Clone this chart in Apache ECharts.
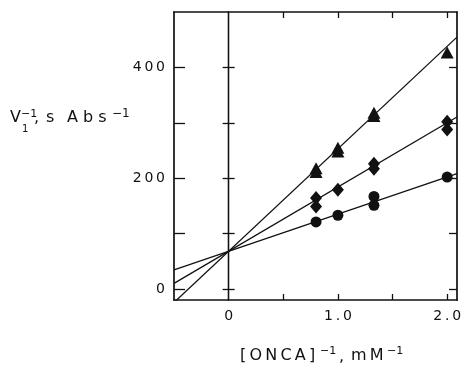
<!DOCTYPE html>
<html>
<head>
<meta charset="utf-8">
<script src="https://cdn.jsdelivr.net/npm/echarts@6/dist/echarts.min.js"></script>
<style>
  html, body { margin: 0; padding: 0; background: #fff; }
  #chart { width: 465px; height: 369px; }
</style>
</head>
<body>
<div id="chart"></div>
<script>
// ==================== data ====================
// [ONCA]^-1 (mM^-1) vs V1^-1 (s Abs^-1), three inhibitor levels
const triangleX = [0.8, 0.8, 1.0, 1.0, 1.33, 1.33, 2.0]
const triangleY = [218, 211, 255, 248, 318, 312, 427]
const diamondX = [0.8, 0.8, 1.0, 1.33, 1.33, 2.0, 2.0]
const diamondY = [164, 149, 179, 226, 217, 302, 288]
const circleX = [0.8, 1.0, 1.33, 1.33, 2.0]
const circleY = [121, 133, 167, 151, 202]

// fitted lines, common y intercept
const fitIntercept = 68
const fitSlopes = [185, 116, 67]

const xRange = [-0.5, 2.09]
const yRange = [-20, 500]
const xTickValues = [0.5, 1.0, 1.5, 2.0]
const xLabelValues = [0, 1.0, 2.0]
const yTickValues = [0, 100, 200, 300, 400]
const yLabelValues = [0, 200, 400]

const ink = '#111'
const font = 'DejaVu Sans'
const spaced = s => s.split('').join('\u2009')
const pairs = (xs, ys) => xs.map((x, i) => [x, ys[i]])

const chart = echarts.init(document.getElementById('chart'), null, { renderer: 'canvas' })

const frameLine = { onZero: false, lineStyle: { color: ink, width: 1.7 } }
const tickStyle = { color: ink, width: 1.3 }

function xAxisDef(position, showLabel) {
  return {
    type: 'value',
    position,
    min: xRange[0],
    max: xRange[1],
    axisLine: frameLine,
    axisTick: { show: true, inside: true, length: 6, customValues: xTickValues, lineStyle: tickStyle },
    axisLabel: {
      show: showLabel,
      customValues: xLabelValues,
      formatter: v => spaced(v === 0 ? '0' : v.toFixed(1)),
      margin: 9,
      fontSize: 14,
      fontFamily: font,
      color: ink
    },
    splitLine: { show: false }
  }
}

function yAxisDef(position, opts) {
  return {
    type: 'value',
    position,
    min: yRange[0],
    max: yRange[1],
    axisLine: opts.onZero
      ? { onZero: true, lineStyle: { color: ink, width: 1.3 } }
      : frameLine,
    axisTick: { show: true, inside: opts.inside, length: opts.tickLen, customValues: yTickValues, lineStyle: tickStyle },
    axisLabel: {
      show: !!opts.label,
      customValues: yLabelValues,
      formatter: v => spaced(String(v)),
      margin: 9,
      fontSize: 14,
      fontFamily: font,
      color: ink
    },
    splitLine: { show: false }
  }
}

const lineSeries = fitSlopes.map(m => ({
  type: 'line',
  xAxisIndex: 0,
  yAxisIndex: 0,
  data: xRange.map(x => [x, fitIntercept + m * x]),
  symbol: 'none',
  lineStyle: { color: ink, width: 1.3 },
  clip: true,
  silent: true,
  z: 2
}))

function scatter(data, symbol, size) {
  return {
    type: 'scatter',
    xAxisIndex: 0,
    yAxisIndex: 0,
    data,
    symbol,
    symbolSize: size,
    itemStyle: { color: ink, opacity: 1 },
    z: 3
  }
}

// title pieces are placed one by one to mimic the wide letter spacing
function label(left, top, text, size) {
  return { type: 'text', left, top, style: { text, fontSize: size, fontFamily: font, fill: ink } }
}

chart.setOption({
  animation: false,
  backgroundColor: '#fff',
  grid: { left: 174, right: 8, top: 12, bottom: 69, containLabel: false, outerBoundsMode: 'none' },
  xAxis: [xAxisDef('bottom', true), xAxisDef('top', false)],
  yAxis: [
    yAxisDef('left', { inside: true, tickLen: 11, label: true }),
    yAxisDef('right', { inside: true, tickLen: 8 }),
    // vertical line at x = 0 with crossing ticks
    yAxisDef('left', { onZero: true, inside: true, tickLen: 6 }),
    yAxisDef('left', { onZero: true, inside: false, tickLen: 6 })
  ],
  series: [
    ...lineSeries,
    scatter(pairs(triangleX, triangleY), 'triangle', [13, 12]),
    scatter(pairs(diamondX, diamondY), 'diamond', [12, 14]),
    scatter(pairs(circleX, circleY), 'circle', 11)
  ],
  graphic: [
    // y axis title: V1^-1, s Abs^-1
    label(10, 110, 'V', 16),
    label(21, 109, '\u22121', 11),
    label(22, 124, '1', 10),
    label(34, 110, ',', 16),
    label(46, 110, 's', 16),
    label(67, 110, 'A b s', 16),
    label(112, 108, '\u22121', 12),
    // x axis title: [ONCA]^-1, mM^-1
    label(240, 348, spaced('[ONCA]'), 16),
    label(320, 346, '\u22121', 11),
    label(339, 349, ',', 16),
    label(351, 348, spaced('mM'), 16),
    label(387, 346, '\u22121', 11)
  ]
})
</script>
</body>
</html>
